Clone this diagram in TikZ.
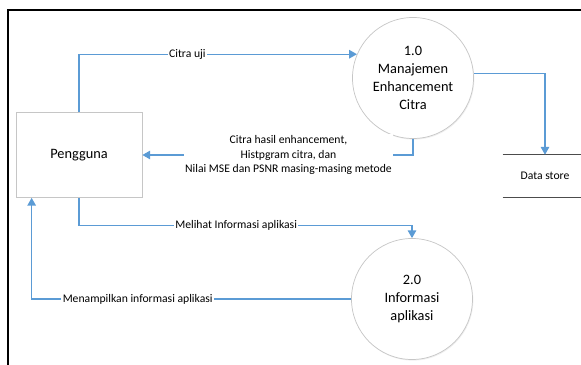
\documentclass[tikz,border=0pt]{standalone}
\usepackage{fontspec}
\setmainfont{Carlito}
\usepackage{tikz}
\usetikzlibrary{arrows.meta, positioning, shapes, shadows}

\definecolor{flowblue}{RGB}{91,155,213}

\begin{document}
\begin{tikzpicture}[
    x=0.025cm, y=-0.025cm,
    every node/.style={font=\fontsize{10.2}{12.8}\selectfont, align=center},
    entity/.style ={draw=gray!45, rectangle, fill=white, line width=0.5pt,
                    minimum width=3.15cm, minimum height=2.125cm,
                    drop shadow={opacity=0.12, shadow xshift=0.6pt, shadow yshift=-0.6pt}},
    process/.style={draw=gray!45, circle, fill=white, line width=0.5pt,
                    minimum size=3.025cm, inner sep=0pt,
                    drop shadow={opacity=0.12, shadow xshift=0.6pt, shadow yshift=-0.8pt}},
    storebox/.style={rectangle, minimum width=2.1cm, minimum height=1.05cm,
                    font=\fontsize{8.3}{10.3}\selectfont},
    flow/.style={-{Triangle[length=5.5pt, width=6pt]}, draw=flowblue, line width=0.9pt},
    flabel/.style={font=\fontsize{8.3}{10.3}\selectfont, fill=white, inner sep=1pt},
    frame/.style={draw=black, line width=1.5pt}
]
\useasboundingbox (0,0) rectangle (581,365);
\draw[frame] (8,365) -- (8,10) -- (581,10);

\node[entity]   (user)  at (79,155)  {Pengguna};
\node[process]  (p1)    at (413,78)  {1.0\\Manajemen\\Enhancement\\Citra};
\node[process]  (p2)    at (412,299) {2.0\\Informasi\\aplikasi};
\node[storebox] (store) at (545,176) {Data store};

\draw[line width=0.6pt, black!70] (store.north west) -- (store.north east);
\draw[line width=0.6pt, black!70] (store.south west) -- (store.south east);

\draw[flow] (user.north) |- node[flabel, pos=0.695] {Citra uji} (p1.157);
\draw[flow] (p1.4) -| (store.north);
\draw[flow] (p1.south) |- node[flabel, pos=0.73] {Citra hasil enhancement,\\Histpgram citra, dan\\Nilai MSE dan PSNR masing-masing metode} (user.east);
\draw[flow] (user.south) -- ++(0,28) -| node[flabel, pos=0.236] {Melihat Informasi aplikasi} (p2.north);
\draw[flow] (p2.west) -| node[flabel, pos=0.334] {Menampilkan informasi aplikasi} ([xshift=0.4cm]user.south west);
\end{tikzpicture}
\end{document}
